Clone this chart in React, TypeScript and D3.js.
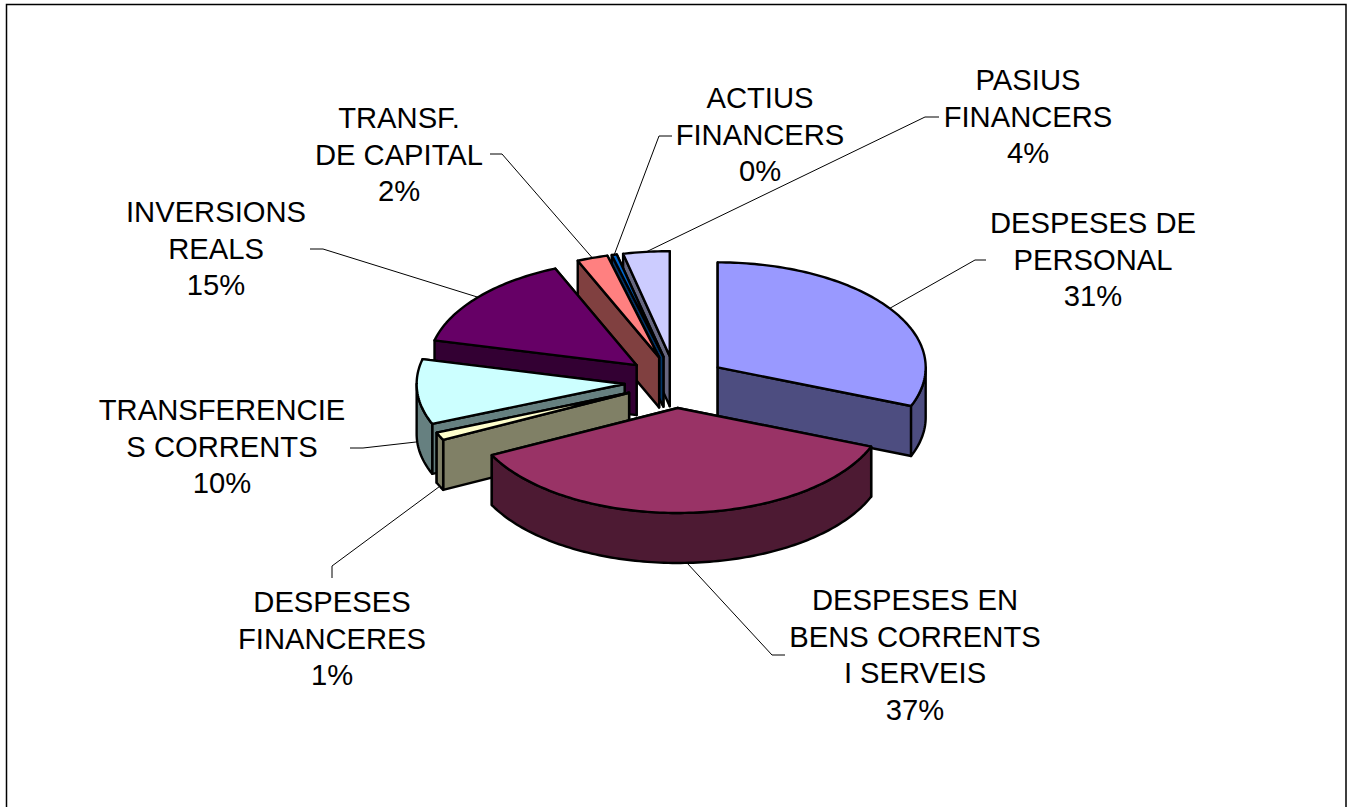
import React, { useEffect, useRef } from "react";
import * as d3 from "d3";

const labels = [
  ["DESPESES DE", "PERSONAL"],
  ["DESPESES EN", "BENS CORRENTS", "I SERVEIS"],
  ["DESPESES", "FINANCERES"],
  ["TRANSFERENCIE", "S CORRENTS"],
  ["INVERSIONS", "REALS"],
  ["TRANSF.", "DE CAPITAL"],
  ["ACTIUS", "FINANCERS"],
  ["PASIUS", "FINANCERS"],
];
const values = [31.0, 36.6, 1.2, 10.0, 14.8, 2.4, 0.4, 3.6];
const colors = ["#9999FF", "#993366", "#FFFFCC", "#CCFFFF", "#660066", "#FF8080", "#0066CC", "#CCCCFF"];

// back to front
const drawOrder = [7, 6, 5, 4, 0, 3, 2, 1];

// label centre x, first baseline y
const labelPos = [
  [1093, 233], [915, 610], [332, 612], [222, 420],
  [216, 222], [399, 128], [760, 108], [1028, 90],
];
// leader elbow and end
const leaderPos = [
  [[975, 260], [986, 260]],
  [[772, 655], [785, 655]],
  [[332, 566], [332, 578]],
  [[363, 448], [350, 448]],
  [[323, 249], [310, 249]],
  [[502, 154], [490, 154]],
  [[659, 136], [672, 136]],
  [[925, 117], [939, 117]],
];

const W = 1348, H = 807;
const cx = 675.5, cy = 382;
const rx = 208, ry = 105, depth = 50;
const explodeX = 51, explodeY = 26;
const fontSize = 29.2, lineStep = 36.7;

const App = () => {
  const svgRef = useRef(null);

  useEffect(() => {
    const svg = d3.select(svgRef.current);
    svg.selectAll("*").remove();

    // chart frame, the bottom edge falls outside the picture
    svg.append("path")
      .attr("d", `M6.5,${H + 5}V4.5H1346V${H + 5}`)
      .attr("fill", "none")
      .attr("stroke", "#000")
      .attr("stroke-width", 1.5);

    const arcs = d3.pie().sort(null)(values);
    const line = d3.line();

    const slices = arcs.map((a, i) => {
      const mid = (a.startAngle + a.endAngle) / 2;
      const ax = cx + explodeX * Math.sin(mid);
      const ay = cy - explodeY * Math.cos(mid);
      const rim = (t, dy = 0) => [ax + rx * Math.sin(t), ay - ry * Math.cos(t) + dy];
      return { ...a, i, mid, ax, ay, rim };
    });

    const sample = (t0, t1) => {
      const n = Math.max(2, Math.ceil((t1 - t0) / 0.02));
      return d3.range(n + 1).map(k => t0 + (t1 - t0) * k / n);
    };

    // leaders go under the pie
    slices.forEach(s => {
      const start = s.rim(s.mid, Math.cos(s.mid) < 0 ? depth : 0);
      svg.append("path")
        .attr("d", line([start, ...leaderPos[s.i]]))
        .attr("fill", "none")
        .attr("stroke", "#000")
        .attr("stroke-width", 1);
    });

    const outline = sel => sel
      .attr("stroke", "#000")
      .attr("stroke-width", 2.4)
      .attr("stroke-linejoin", "round");

    drawOrder.forEach(idx => {
      const s = slices[idx];
      const base = d3.rgb(colors[idx]);
      const side = d3.rgb(base.r * 0.5, base.g * 0.5, base.b * 0.5).formatHex();
      const g = svg.append("g");

      // cut faces, the one further back first
      [s.startAngle, s.endAngle]
        .sort((a, b) => s.rim(a)[1] - s.rim(b)[1])
        .forEach(t => {
          g.append("path")
            .attr("d", line([[s.ax, s.ay], s.rim(t), s.rim(t, depth), [s.ax, s.ay + depth]]) + "Z")
            .attr("fill", side)
            .call(outline);
        });

      // outer wall, only the part that faces the viewer
      const t0 = Math.max(s.startAngle, Math.PI / 2);
      const t1 = Math.min(s.endAngle, Math.PI * 1.5);
      if (t1 > t0) {
        const ts = sample(t0, t1);
        const pts = [...ts.map(t => s.rim(t)), ...ts.slice().reverse().map(t => s.rim(t, depth))];
        g.append("path")
          .attr("d", line(pts) + "Z")
          .attr("fill", side)
          .call(outline);
      }

      // top
      const top = [[s.ax, s.ay], ...sample(s.startAngle, s.endAngle).map(t => s.rim(t))];
      g.append("path")
        .attr("d", line(top) + "Z")
        .attr("fill", colors[idx])
        .call(outline);
    });

    // labels
    slices.forEach(s => {
      const [x, y] = labelPos[s.i];
      const lines = [...labels[s.i], `${Math.round(values[s.i])}%`];
      const text = svg.append("text")
        .attr("text-anchor", "middle")
        .attr("font-family", "'Liberation Sans', Arial, sans-serif")
        .attr("font-size", fontSize)
        .attr("fill", "#000");
      lines.forEach((l, k) => {
        text.append("tspan").attr("x", x).attr("y", y + k * lineStep).text(l);
      });
    });
  }, []);

  return (
    <svg
      ref={svgRef}
      width={W}
      height={H}
      viewBox={`0 0 ${W} ${H}`}
      style={{ position: "absolute", left: 0, top: 0, background: "#fff" }}
    />
  );
};

export default App;
